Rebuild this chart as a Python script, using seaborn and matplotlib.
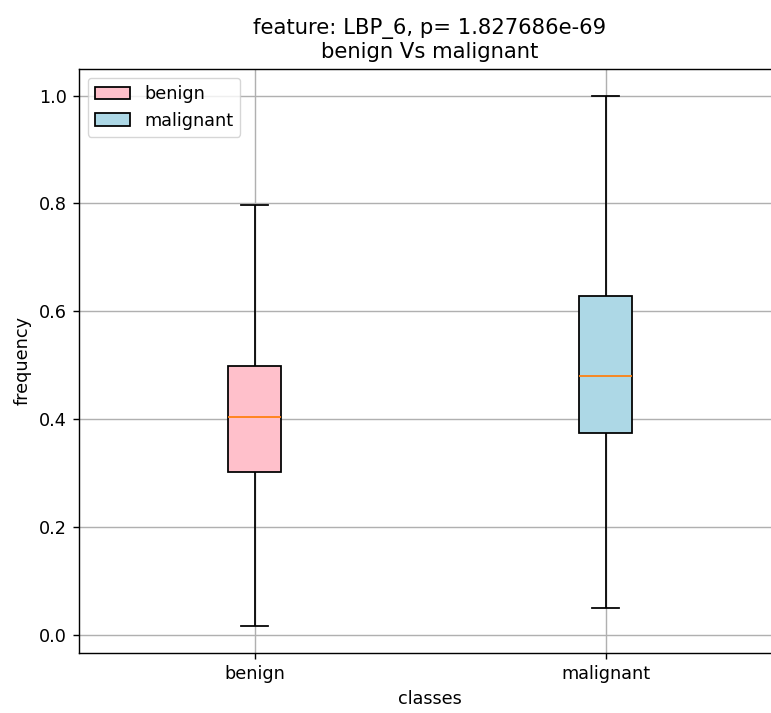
import matplotlib
matplotlib.use("Agg")
import matplotlib.pyplot as plt
from matplotlib.patches import Patch
import pandas as pd
import seaborn as sns

# Five-number summaries per class: min, Q1, median, Q3, max
classes = ["benign", "malignant"]
benign_vals = [0.015, 0.302, 0.404, 0.499, 0.797]
malignant_vals = [0.050, 0.374, 0.480, 0.628, 1.000]
class_colors = ["pink", "lightblue"]
feature_name = "LBP_6"
p_value = 1.827686e-69

# Everything drawn about 1.27x the matplotlib defaults
s = 1.27
plt.rcParams.update({
    "font.size": 10 * s,
    "axes.titlesize": 12 * s,
    "axes.titlepad": 6 * s,
    "axes.labelpad": 4 * s,
    "axes.linewidth": 0.8 * s,
    "xtick.major.size": 3.5 * s,
    "ytick.major.size": 3.5 * s,
    "xtick.major.width": 0.8 * s,
    "ytick.major.width": 0.8 * s,
    "xtick.major.pad": 3.5 * s,
    "ytick.major.pad": 3.5 * s,
})

df = pd.DataFrame({
    "classes": [classes[0]] * len(benign_vals) + [classes[1]] * len(malignant_vals),
    "frequency": benign_vals + malignant_vals,
})

fig = plt.figure(figsize=(7.71, 7.13), dpi=100)
ax = fig.add_axes([0.1025, 0.0842, 0.9105, 0.819])

sns.boxplot(
    data=df, x="classes", y="frequency", hue="classes",
    order=classes, hue_order=classes,
    palette=dict(zip(classes, class_colors)), saturation=1,
    width=0.15, whis=(0, 100), linecolor="black", linewidth=1.0 * s,
    medianprops={"color": "#ff7f0e", "linewidth": 1.0 * s},
    legend=False, ax=ax,
)

ax.grid(True, color="#b0b0b0", linewidth=0.8 * s)
ax.set_axisbelow(True)
ax.set_xlim(-0.5, 1.5)
ax.spines["right"].set_visible(False)
ax.set_title(f"feature: {feature_name}, p= {p_value:e}\nbenign Vs malignant")
ax.set_xlabel("classes")
ax.set_ylabel("frequency")
ax.set_yticks([0.0, 0.2, 0.4, 0.6, 0.8, 1.0])

handles = [Patch(facecolor=c, edgecolor="black", linewidth=1.0 * s, label=n)
           for n, c in zip(classes, class_colors)]
ax.legend(handles=handles, loc="upper left")

fig.savefig("out.png", dpi=100)
